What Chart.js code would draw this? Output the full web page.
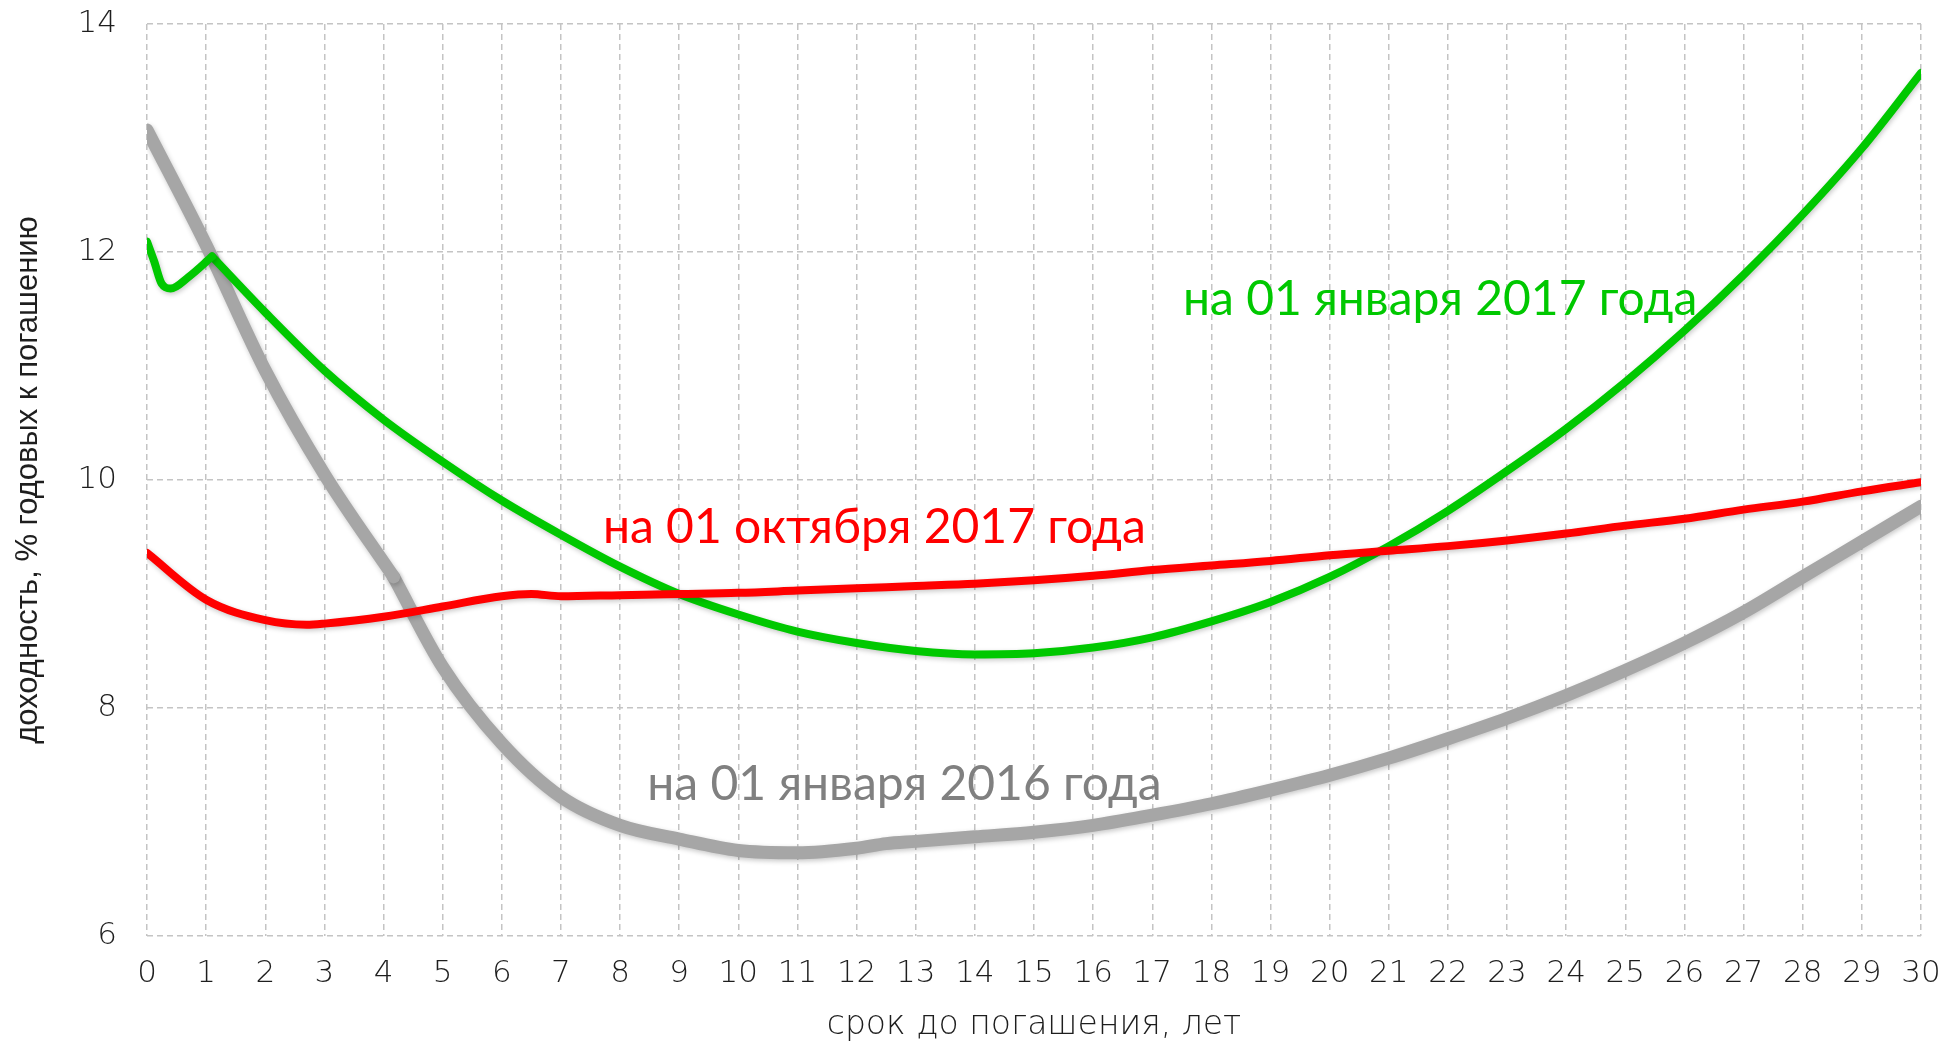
<!DOCTYPE html>
<html>
<head>
<meta charset="utf-8">
<script src="https://cdn.jsdelivr.net/npm/chart.js@4/dist/chart.umd.min.js"></script>
<style>
  html, body { margin: 0; padding: 0; background: #fff; }
  #wrap { width: 1959px; height: 1045px; position: relative; }
</style>
</head>
<body>
<div id="wrap"><canvas id="chart"></canvas></div>
<script>
// Data ------------------------------------------------------------------------------------

// срок до погашения (лет) / доходность (% годовых)
var TERMS_2017_OCT = [0, 1, 2, 2.7, 3, 4, 5, 6, 6.5, 7, 8, 9, 10, 11, 12, 13, 14, 15, 16, 17, 18, 19, 20, 21, 22, 23, 24, 25, 26, 27, 28, 29, 30];
var YIELDS_2017_OCT = [9.36, 8.95, 8.77, 8.73, 8.74, 8.8, 8.89, 8.98, 9.0, 8.98, 8.99, 9.0, 9.01, 9.03, 9.05, 9.07, 9.09, 9.12, 9.16, 9.21, 9.25, 9.29, 9.34, 9.38, 9.42, 9.47, 9.53, 9.6, 9.66, 9.74, 9.81, 9.9, 9.98];

var TERMS_2017_JAN = [0, 0.12, 0.25, 0.4, 0.7, 1.1, 2, 3, 4, 5, 6, 7, 8, 9, 10, 11, 12, 13, 14, 15, 16, 17, 18, 19, 20, 21, 22, 23, 24, 25, 26, 27, 28, 29, 30];
var YIELDS_2017_JAN = [12.09, 11.92, 11.72, 11.68, 11.78, 11.96, 11.47, 10.96, 10.53, 10.16, 9.82, 9.52, 9.24, 9.0, 8.82, 8.67, 8.57, 8.5, 8.47, 8.48, 8.53, 8.62, 8.76, 8.93, 9.15, 9.42, 9.73, 10.08, 10.45, 10.86, 11.31, 11.8, 12.33, 12.91, 13.57];

var TERMS_2016_JAN = [0, 1, 2, 3, 4.17, 5, 6, 7, 8, 9, 10, 11, 12, 12.5, 13, 14, 15, 16, 17, 18, 19, 20, 21, 22, 23, 24, 25, 26, 27, 28, 29, 30];
var YIELDS_2016_JAN = [13.07, 12.06, 10.96, 10.05, 9.15, 8.36, 7.69, 7.22, 6.97, 6.85, 6.75, 6.73, 6.77, 6.81, 6.83, 6.87, 6.91, 6.97, 7.06, 7.16, 7.28, 7.41, 7.56, 7.73, 7.91, 8.11, 8.33, 8.57, 8.84, 9.15, 9.46, 9.77];

// terms where a curve has a sharp corner
var BREAK_2017_JAN = 1.1;
var BREAK_2016_JAN = 4.17;

var SERIES_LABELS = ['на 01 октября 2017 года', 'на 01 января 2017 года', 'на 01 января 2016 года'];

var X_MIN = 0, X_MAX = 30, X_STEP = 1;
var Y_MIN = 6, Y_MAX = 14, Y_STEP = 2;

// Constants -------------------------------------------------------------------------------

var RED = '#ff0000';
var GREEN = '#00c800';
var GRAY_LINE = '#a6a6a6';
var GRAY_TEXT = '#808080';
var GRID_COLOR = '#c4c4c4';
var TEXT_COLOR = '#1e1e1e';

var TICK_FONT = { family: '"DejaVu Sans", sans-serif', size: 31, weight: 200 };
var X_TITLE_FONT = { family: '"DejaVu Sans", sans-serif', size: 33, weight: 200 };
var Y_TITLE_FONT = { family: '"Liberation Sans", Arial, sans-serif', size: 31 };
var LABEL_FONT = '48px Lato, "Open Sans", sans-serif';

// where the curve names sit, in axis units (x = years, y = percent, at text baseline)
var LABEL_SPOTS = [
    { x: 7.71, y: 9.45, color: RED },
    { x: 17.52, y: 11.45, color: GREEN },
    { x: 8.46, y: 7.19, color: GRAY_TEXT }
];

// Functions -------------------------------------------------------------------------------

function toPoints(xs, ys, from, to) {
    var points = [];
    for (var i = 0; i < xs.length; i++) {
        if (xs[i] >= from && xs[i] <= to) {
            points.push({ x: xs[i], y: ys[i] });
        }
    }
    return points;
}

function makeDataset(label, points, color, width) {
    return {
        label: label,
        data: points,
        borderColor: color,
        backgroundColor: color,
        borderWidth: width,
        pointRadius: 0,
        fill: false,
        cubicInterpolationMode: 'monotone',
        borderCapStyle: 'round',
        borderJoinStyle: 'round'
    };
}

// soft drop shadow under each curve
var shadowPlugin = {
    id: 'lineShadow',
    beforeDatasetDraw: function (chart) {
        var ctx = chart.ctx;
        ctx.save();
        ctx.shadowColor = 'rgba(0, 0, 0, 0.22)';
        ctx.shadowBlur = 5;
        ctx.shadowOffsetX = 1;
        ctx.shadowOffsetY = 2;
    },
    afterDatasetDraw: function (chart) {
        chart.ctx.restore();
    }
};

// curve names written next to the curves
var curveLabelsPlugin = {
    id: 'curveLabels',
    afterDatasetsDraw: function (chart) {
        var ctx = chart.ctx;
        var xScale = chart.scales.x;
        var yScale = chart.scales.y;
        ctx.save();
        ctx.font = LABEL_FONT;
        ctx.textAlign = 'left';
        ctx.textBaseline = 'alphabetic';
        for (var i = 0; i < LABEL_SPOTS.length; i++) {
            var spot = LABEL_SPOTS[i];
            ctx.fillStyle = spot.color;
            ctx.fillText(SERIES_LABELS[i], xScale.getPixelForValue(spot.x), yScale.getPixelForValue(spot.y));
        }
        ctx.restore();
    }
};

// first dataset is drawn on top
var datasets = [
    makeDataset(SERIES_LABELS[0], toPoints(TERMS_2017_OCT, YIELDS_2017_OCT, X_MIN, X_MAX), RED, 8),
    makeDataset(SERIES_LABELS[1], toPoints(TERMS_2017_JAN, YIELDS_2017_JAN, X_MIN, BREAK_2017_JAN), GREEN, 8),
    makeDataset(SERIES_LABELS[1], toPoints(TERMS_2017_JAN, YIELDS_2017_JAN, BREAK_2017_JAN, X_MAX), GREEN, 8),
    makeDataset(SERIES_LABELS[2], toPoints(TERMS_2016_JAN, YIELDS_2016_JAN, X_MIN, BREAK_2016_JAN), GRAY_LINE, 13),
    makeDataset(SERIES_LABELS[2], toPoints(TERMS_2016_JAN, YIELDS_2016_JAN, BREAK_2016_JAN, X_MAX), GRAY_LINE, 13)
];

var context = document.getElementById('chart').getContext('2d');

var chart = new Chart(context, {
    type: 'line',
    data: { datasets: datasets },
    options: {
        responsive: true,
        maintainAspectRatio: false,
        animation: false,
        layout: { padding: { left: 0, right: 38, top: 24, bottom: 0 } },
        plugins: {
            legend: { display: false },
            tooltip: { enabled: false }
        },
        scales: {
            x: {
                type: 'linear',
                min: X_MIN,
                max: X_MAX,
                ticks: { stepSize: X_STEP, padding: 19, color: TEXT_COLOR, font: TICK_FONT, maxRotation: 0, autoSkip: false },
                grid: { color: GRID_COLOR, lineWidth: 1.5, drawTicks: false },
                border: { display: false, dash: [6, 4] },
                title: {
                    display: true,
                    text: 'срок до погашения, лет',
                    color: TEXT_COLOR,
                    font: X_TITLE_FONT,
                    padding: { top: 0, bottom: 0 }
                },
                afterFit: function (scale) {
                    scale.height = 109;
                    scale.paddingLeft = 0;
                    scale.paddingRight = 0;
                }
            },
            y: {
                min: Y_MIN,
                max: Y_MAX,
                ticks: { stepSize: Y_STEP, padding: 30, color: TEXT_COLOR, font: TICK_FONT },
                grid: { color: GRID_COLOR, lineWidth: 1.5, drawTicks: false },
                border: { display: false, dash: [6, 4] },
                title: {
                    display: true,
                    text: 'доходность, % годовых к погашению',
                    color: TEXT_COLOR,
                    font: Y_TITLE_FONT,
                    padding: { top: 10, bottom: 0 }
                },
                afterFit: function (scale) {
                    scale.width = 147;
                    scale.paddingTop = 0;
                    scale.paddingBottom = 0;
                }
            }
        }
    },
    plugins: [shadowPlugin, curveLabelsPlugin]
});
</script>
</body>
</html>
